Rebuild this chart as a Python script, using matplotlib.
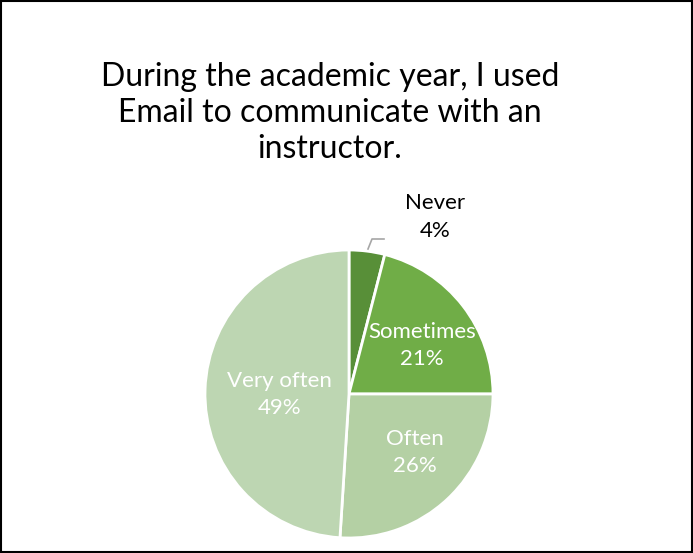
import numpy as np
import matplotlib.pyplot as plt
from matplotlib.patches import Rectangle

# datos
categories = ['Never', 'Sometimes', 'Often', 'Very often']
percents = [4, 21, 26, 49]
colors = ['#588F38', '#70AD47', '#B4D0A4', '#BDD6B2']
title = 'During the academic year, I used\nEmail to communicate with an\ninstructor.'

W, H = 693, 553
fig = plt.figure(figsize=(W / 100, H / 100), dpi=100)
ax = fig.add_axes([0, 0, 1, 1])

cx, cy, r = 349, H - 394, 144
wedges, _ = ax.pie(percents, colors=colors, startangle=90, counterclock=False,
                   center=(cx, cy), radius=r, frame=True,
                   wedgeprops=dict(edgecolor='white', linewidth=2))
ax.set_xlim(0, W)
ax.set_ylim(0, H)
ax.set_aspect('equal')
ax.axis('off')

# etiquetas dentro de las porciones (fracción del radio, giro en grados)
label_pos = [None, (0.61, -4), (0.61, 5), (0.48, 2)]
for w, cat, p, pos in zip(wedges, categories, percents, label_pos):
    if pos is None:
        continue
    f, dth = pos
    ang = np.deg2rad((w.theta1 + w.theta2) / 2 + dth)
    ax.text(cx + f * r * np.cos(ang), cy + f * r * np.sin(ang), f'{cat}\n{p}%',
            ha='center', va='center', color='white', fontsize=16,
            family='Lato', linespacing=1.45)

# "Never" afuera con línea guía
ax.text(435, H - 217, f'{categories[0]}\n{percents[0]}%', ha='center', va='center',
        color='black', fontsize=16, family='Lato', linespacing=1.45)
ax.plot([368, 372, 384], [H - 249, H - 239, H - 239], color='#A6A6A6', lw=1.2)

ax.text(330, H - 113, title, ha='center', va='center', fontsize=23,
        family='Lato', linespacing=1.25)

ax.add_patch(Rectangle((1, 1), W - 2, H - 2, fill=False, edgecolor='black', lw=1.5))

plt.savefig('out.png', dpi=100)
